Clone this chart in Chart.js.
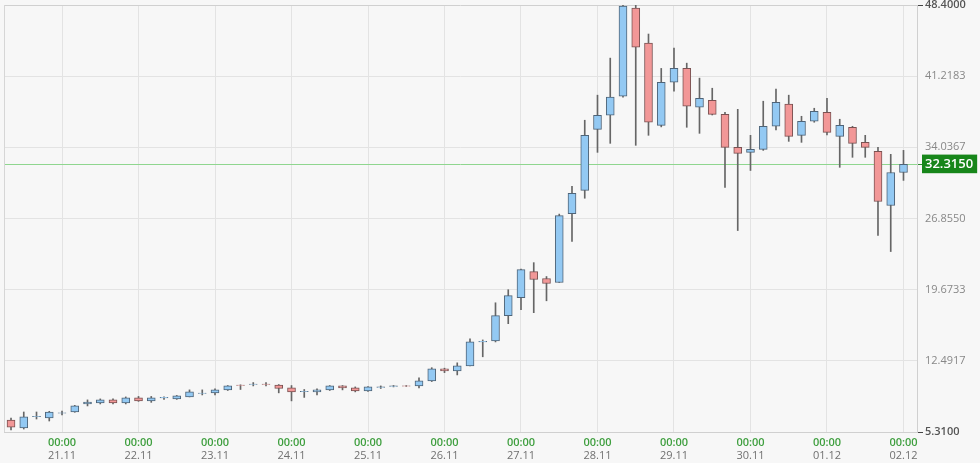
<!DOCTYPE html>
<html>
<head>
<meta charset="utf-8">
<script src="https://cdn.jsdelivr.net/npm/chart.js"></script>
<style>
  html, body { margin: 0; padding: 0; background: #f7f7f7; }
  canvas { display: block; }
</style>
</head>
<body>
<canvas id="candles" width="980" height="463"></canvas>
<script>
// 4h candles, 20.11 08:00 -> 02.12 00:00
const opens = [6.52, 5.71, 6.85, 6.73, 7.20, 7.33, 8.14, 8.24, 8.55, 8.24,
  8.75, 8.45, 8.75, 8.65, 8.85, 9.20, 9.25, 9.56, 10.05, 10.10,
  10.15, 10.05, 9.76, 9.38, 9.36, 9.56, 9.96, 9.76, 9.46, 9.80,
  9.90, 9.96, 9.96, 10.47, 11.68, 11.48, 11.98, 14.40, 14.50, 17.05,
  18.87, 21.50, 20.80, 20.40, 27.35, 29.70, 35.85, 37.27, 39.20, 48.10,
  44.55, 36.26, 40.60, 42.00, 38.08, 38.79, 37.37, 34.04, 33.53, 33.83,
  36.16, 38.39, 35.25, 36.67, 37.57, 35.15, 36.06, 34.54, 33.63, 28.17,
  31.50];
const highs = [6.72, 7.33, 7.33, 7.40, 7.43, 8.00, 8.55, 8.65, 8.65, 8.85,
  8.90, 8.90, 8.85, 9.00, 9.56, 9.56, 9.66, 10.00, 10.07, 10.30,
  10.30, 10.10, 10.00, 9.60, 9.66, 10.00, 10.00, 9.86, 9.90, 9.96,
  10.00, 10.00, 10.77, 11.80, 11.75, 12.29, 14.70, 14.60, 18.35, 19.67,
  21.75, 22.40, 21.00, 27.30, 30.10, 36.77, 39.30, 43.04, 48.40, 48.40,
  45.47, 42.00, 44.05, 42.53, 41.02, 40.00, 37.57, 37.87, 35.25, 38.69,
  39.91, 39.30, 37.17, 37.98, 38.99, 36.87, 36.16, 35.25, 34.04, 33.33,
  33.73];
const lows = [5.51, 5.61, 6.62, 6.42, 7.03, 7.30, 7.94, 8.14, 8.14, 8.14,
  8.40, 8.30, 8.60, 8.60, 8.85, 9.05, 9.05, 9.50, 9.60, 9.96,
  9.96, 9.26, 8.45, 8.80, 9.05, 9.50, 9.56, 9.36, 9.40, 9.70,
  9.86, 9.90, 9.76, 10.40, 11.30, 11.07, 11.98, 12.90, 14.40, 16.24,
  17.66, 17.35, 18.55, 20.40, 24.55, 28.90, 33.53, 34.44, 39.10, 34.24,
  35.25, 36.10, 39.70, 36.06, 35.45, 37.30, 29.99, 25.64, 31.70, 33.73,
  35.80, 34.64, 34.54, 36.57, 35.30, 32.02, 33.03, 33.03, 25.14, 23.52,
  30.70];
const closes = [5.81, 6.83, 6.90, 7.33, 7.25, 7.94, 8.34, 8.55, 8.24, 8.75,
  8.45, 8.75, 8.80, 8.95, 9.36, 9.25, 9.56, 9.96, 10.00, 10.15,
  10.10, 9.70, 9.36, 9.42, 9.56, 9.96, 9.76, 9.46, 9.86, 9.86,
  9.96, 9.93, 10.47, 11.68, 11.48, 11.98, 14.40, 14.45, 17.05, 19.07,
  21.70, 20.70, 20.30, 27.15, 29.40, 35.25, 37.27, 39.10, 48.30, 44.15,
  36.57, 40.60, 42.00, 38.18, 38.99, 37.37, 34.04, 33.43, 33.83, 36.16,
  38.59, 35.15, 36.67, 37.67, 35.55, 36.26, 34.44, 34.04, 28.57, 31.50,
  32.315];

const lastPrice = 32.315;
const priceTicks = [5.31, 12.4917, 19.6733, 26.855, 32.315, 34.0367, 41.2183, 48.4];
const dayTicks = [4, 10, 16, 22, 28, 34, 40, 46, 52, 58, 64, 70]; // candle index of each 00:00
const dayLabels = ['21.11', '22.11', '23.11', '24.11', '25.11', '26.11', '27.11', '28.11', '29.11', '30.11', '01.12', '02.12'];
const timeLabels = ['00:00', '00:00', '00:00', '00:00', '00:00', '00:00', '00:00', '00:00', '00:00', '00:00', '00:00', '00:00'];

const X_MIN = -0.55, X_MAX = 71.06;
const UP = '#93c9f3', DOWN = '#f29797';

const isUp = i => closes[i] >= opens[i];
const tickVal = ctx => (ctx && ctx.tick) ? ctx.tick.value : null;
const isEdge = v => v === 5.31 || v === 48.4;

const wicks = lows.map((l, i) => ({ x: i, y: [l, highs[i]] }));
const bodies = opens.map((o, i) => ({ x: i, y: [o, closes[i]] }));

// light frame on the left side of the plot
const framePlugin = {
  id: 'frame',
  beforeDatasetsDraw(chart) {
    const { ctx, chartArea: a } = chart;
    ctx.save();
    ctx.strokeStyle = '#d6d6d6';
    ctx.lineWidth = 1;
    ctx.beginPath();
    ctx.moveTo(a.left + 0.5, a.top);
    ctx.lineTo(a.left + 0.5, a.bottom);
    ctx.stroke();
    ctx.restore();
  }
};

const setTicks = (list) => (scale) => { scale.ticks = list.map(v => ({ value: v })); };
const noPad = (w, h) => (scale) => {
  if (w) scale.width = w;
  if (h) scale.height = h;
  scale.paddingTop = 0; scale.paddingBottom = 0;
  scale.paddingLeft = 0; scale.paddingRight = 0;
};

new Chart(document.getElementById('candles'), {
  type: 'bar',
  data: {
    datasets: [
      {
        label: 'wick',
        data: wicks,
        grouped: false,
        order: 2,
        barThickness: 1,
        backgroundColor: '#666',
        borderWidth: 0
      },
      {
        label: 'body',
        data: bodies,
        grouped: false,
        order: 1,
        barThickness: 8,
        borderSkipped: false,
        borderWidth: 1,
        backgroundColor: ctx => isUp(ctx.dataIndex) ? UP : DOWN,
        borderColor: ctx => isUp(ctx.dataIndex) ? '#4f6478' : '#7a5252'
      }
    ]
  },
  options: {
    responsive: false,
    animation: false,
    layout: { padding: { left: 4, top: 5, right: 0, bottom: 0 } },
    plugins: { legend: { display: false }, tooltip: { enabled: false } },
    scales: {
      x: {
        type: 'linear',
        position: 'bottom',
        weight: 0,
        min: X_MIN,
        max: X_MAX,
        offset: false,
        afterBuildTicks: setTicks(dayTicks),
        afterFit: noPad(0, 17),
        grid: { offset: false, color: '#e3e3e3', drawTicks: false },
        border: { display: true, color: '#d0d0d0' },
        ticks: {
          autoSkip: false,
          maxRotation: 0,
          padding: 4,
          color: '#3f9f3f',
          font: { family: 'Open Sans', size: 11, weight: '600' },
          callback: (v) => timeLabels[dayTicks.indexOf(v)]
        }
      },
      x2: {
        type: 'linear',
        position: 'bottom',
        weight: 1,
        min: X_MIN,
        max: X_MAX,
        offset: false,
        afterBuildTicks: setTicks(dayTicks),
        afterFit: noPad(0, 14),
        grid: { display: false, drawTicks: false },
        border: { display: false },
        ticks: {
          autoSkip: false,
          maxRotation: 0,
          padding: 0,
          color: '#707070',
          font: { family: 'Open Sans', size: 11 },
          callback: (v) => dayLabels[dayTicks.indexOf(v)]
        }
      },
      y: {
        type: 'linear',
        position: 'right',
        min: 5.31,
        max: 48.4,
        afterBuildTicks: setTicks(priceTicks),
        afterFit: noPad(63, 0),
        grid: {
          color: ctx => {
            const v = tickVal(ctx);
            if (v === lastPrice) return '#8fd68f';
            if (isEdge(v)) return '#d0d0d0';
            return '#e3e3e3';
          },
          tickLength: 6,
          tickColor: ctx => {
            const v = tickVal(ctx);
            if (v === lastPrice) return '#2e8b2e';
            if (isEdge(v)) return '#444';
            return 'rgba(0,0,0,0)';
          }
        },
        border: { display: true, color: '#d0d0d0' },
        ticks: {
          autoSkip: false,
          padding: 2,
          color: ctx => {
            const v = tickVal(ctx);
            if (v === lastPrice) return '#ffffff';
            return isEdge(v) ? '#555' : '#888';
          },
          font: ctx => {
            const v = tickVal(ctx);
            if (v === lastPrice) return { family: 'Open Sans', size: 13, weight: '600' };
            return { family: 'Open Sans', size: 11, weight: isEdge(v) ? '600' : 'normal' };
          },
          showLabelBackdrop: ctx => tickVal(ctx) === lastPrice,
          backdropColor: '#17861a',
          backdropPadding: { left: 3, right: 4, top: 2, bottom: 1 },
          callback: (v) => v.toFixed(4)
        }
      }
    }
  },
  plugins: [framePlugin]
});
</script>
</body>
</html>
